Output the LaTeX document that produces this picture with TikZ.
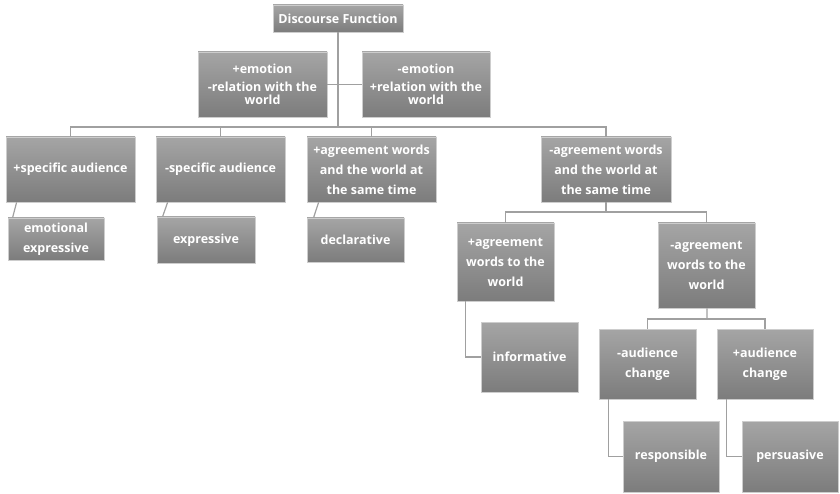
\documentclass[tikz,border=0pt]{standalone}
\usepackage{fontspec}
\setmainfont{Open Sans}
\usetikzlibrary{calc}

\definecolor{boxtop}{RGB}{165,165,165}
\definecolor{boxbot}{RGB}{124,124,124}
\definecolor{boxrim}{RGB}{205,205,205}
\definecolor{linkgray}{RGB}{160,160,160}

\tikzset{fbox/.style = {shape = rectangle,
                        top color = boxtop,
                        bottom color = boxbot,
                        draw = boxrim,
                        line width = 0.8pt,
                        text = white,
                        align = center,
                        inner sep = 1pt,
                        font = \bfseries\fontsize{12.5}{20}\selectfont},
         link/.style = {draw = linkgray,
                        line width = 1.2pt}}

\begin{document}
\begin{tikzpicture}[x=1pt,y=-1pt]
		\useasboundingbox (0,0) rectangle (840,494);
		% top
		\node[fbox, minimum width=130, minimum height=27] (root) at (338,18.5) {Discourse Function};
		\node[fbox, minimum width=129, minimum height=65,
		      font=\bfseries\fontsize{12.5}{13.5}\selectfont] (emoA) at (262.5,84.5) {+emotion\\[4pt]-relation with the\\world};
		\node[fbox, minimum width=128, minimum height=65,
		      font=\bfseries\fontsize{12.5}{13.5}\selectfont] (emoB) at (426,84.5) {-emotion\\[4pt]+relation with the\\world};
		% second row
		\node[fbox, minimum width=129, minimum height=65] (audA) at (70.5,169.5) {+specific audience};
		\node[fbox, minimum width=129, minimum height=65] (audB) at (220.5,169.5) {-specific audience};
		\node[fbox, minimum width=129, minimum height=65] (agrA) at (371.5,169.5) {+agreement words\\and the world at\\the same time};
		\node[fbox, minimum width=130, minimum height=65] (agrB) at (606,169.5) {-agreement words\\and the world at\\the same time};
		% leaves under second row
		\node[fbox, minimum width=96, minimum height=42] (emex) at (56,239) {emotional\\expressive};
		\node[fbox, minimum width=98, minimum height=46] (expr) at (206,240) {expressive};
		\node[fbox, minimum width=97, minimum height=44] (decl) at (355.5,240) {declarative};
		% third row
		\node[fbox, minimum width=97, minimum height=78] (wldA) at (505.5,262) {+agreement\\words to the\\world};
		\node[fbox, minimum width=97, minimum height=85] (wldB) at (706.5,265.5) {-agreement\\words to the\\world};
		\node[fbox, minimum width=97, minimum height=70] (info) at (529.5,357) {informative};
		\node[fbox, minimum width=97, minimum height=70] (chgA) at (647.5,364) {-audience\\change};
		\node[fbox, minimum width=96, minimum height=70] (chgB) at (765,364) {+audience\\change};
		\node[fbox, minimum width=96, minimum height=71] (resp) at (671,456.5) {responsible};
		\node[fbox, minimum width=96, minimum height=71] (pers) at (790,456.5) {persuasive};

		% connectors
		\coordinate (busA) at (338,127);
		\coordinate (busB) at (606,212);
		\coordinate (busC) at (707,319);
		\draw[link] (root) -- (busA);
		\draw[link] (emoA.east) -- (emoB.west);
		\foreach \n in {audA,audB,agrA,agrB}
			\draw[link] (busA) -| (\n.north);
		\draw[link] ($(audA.south west)+(11,0)$) -- ($(emex.north west)+(5,0)$);
		\draw[link] ($(audB.south west)+(12,0)$) -- ($(expr.north west)+(6,0)$);
		\draw[link] ($(agrA.south west)+(12,0)$) -- ($(decl.north west)+(7,0)$);
		\draw[link] (agrB) -- (busB);
		\draw[link] (busB) -| (wldA.north);
		\draw[link] (busB) -| (wldB.north);
		\draw[link] ($(wldA.south west)+(9,0)$) |- (info.west);
		\draw[link] (wldB) -- (busC);
		\draw[link] (busC) -| (chgA.north);
		\draw[link] (busC) -| (chgB.north);
		\draw[link] ($(chgA.south west)+(10,0)$) |- (resp.west);
		\draw[link] ($(chgB.south west)+(10,0)$) |- (pers.west);
	\end{tikzpicture}
\end{document}
